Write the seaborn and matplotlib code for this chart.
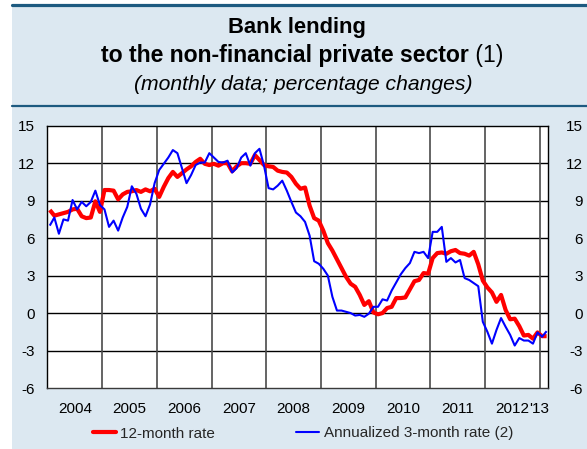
import numpy as np
import pandas as pd
import matplotlib
matplotlib.use("Agg")
import matplotlib.pyplot as plt
from matplotlib.lines import Line2D
from matplotlib.patches import Rectangle
import seaborn as sns

# Monthly observations, January 2004 to February 2013
months = pd.date_range("2004-01-01", periods=110, freq="MS")

rate_12m = [
    8.25, 7.8, 7.9, 8.0, 8.1, 8.3, 8.35, 7.75, 7.6, 7.65, 8.95, 8.1,          # 2004
    9.85, 9.85, 9.8, 9.1, 9.5, 9.7, 9.75, 9.85, 9.7, 9.9, 9.75, 9.95,         # 2005
    9.3, 10.1, 10.8, 11.3, 10.9, 11.2, 11.5, 11.75, 12.1, 12.35, 11.95, 11.85,  # 2006
    11.95, 11.8, 12.0, 12.0, 11.35, 11.75, 12.0, 12.0, 11.95, 12.65, 12.25, 11.85,  # 2007
    11.75, 11.7, 11.4, 11.3, 11.25, 10.9, 10.35, 9.95, 10.05, 8.6, 7.6, 7.4,  # 2008
    6.6, 5.6, 5.0, 4.3, 3.6, 2.9, 2.35, 2.1, 1.45, 0.65, 0.95, 0.05,          # 2009
    -0.1, 0.0, 0.4, 0.5, 1.2, 1.2, 1.25, 1.9, 2.55, 2.65, 3.2, 3.15,          # 2010
    4.4, 4.8, 4.85, 4.75, 4.95, 5.05, 4.8, 4.75, 4.6, 4.9, 3.9, 2.6,          # 2011
    2.05, 1.65, 0.9, 1.45, 0.25, -0.5, -0.45, -1.05, -1.8, -1.75, -2.05, -1.55,  # 2012
    -1.85, -1.85,                                                              # 2013
]

rate_3m_annualized = [
    7.0, 7.65, 6.35, 7.5, 7.4, 9.05, 8.3, 8.9, 8.55, 8.9, 9.8, 8.65,          # 2004
    8.3, 6.9, 7.4, 6.6, 7.65, 8.5, 10.15, 9.55, 8.35, 7.75, 8.7, 10.4,        # 2005
    11.45, 11.95, 12.45, 13.05, 12.8, 11.6, 10.4, 11.05, 11.85, 12.05, 12.05, 12.8,  # 2006
    12.45, 12.1, 12.05, 12.2, 11.25, 11.6, 12.45, 12.8, 11.8, 12.8, 13.15, 11.8,  # 2007
    10.0, 9.9, 10.2, 10.6, 9.8, 8.9, 8.05, 7.75, 7.3, 6.2, 4.15, 3.95,        # 2008
    3.55, 3.0, 1.3, 0.2, 0.2, 0.1, 0.0, -0.2, -0.15, -0.3, -0.05, 0.5,        # 2009
    0.5, 1.1, 1.0, 1.8, 2.45, 3.1, 3.6, 4.0, 4.9, 4.8, 4.9, 4.4,              # 2010
    6.5, 6.5, 6.9, 4.1, 4.4, 4.05, 4.25, 2.8, 2.65, 2.4, 2.15, -0.7,          # 2011
    -1.5, -2.45, -1.35, -0.4, -1.1, -1.75, -2.6, -2.0, -2.2, -2.2, -2.45, -1.55,  # 2012
    -1.9, -1.45,                                                               # 2013
]

series_names = ["12-month rate", "Annualized 3-month rate (2)"]
year_labels = ["2004", "2005", "2006", "2007", "2008", "2009", "2010", "2011", "2012"]
last_year_label = "'13"
y_ticks = [-6, -3, 0, 3, 6, 9, 12, 15]

title_line1 = "Bank lending"
title_line2_bold = "to the non-financial private sector"
title_line2_note = " (1)"
title_line3 = "(monthly data; percentage changes)"

sns.set_style("white")
plt.rcParams["font.family"] = ["Liberation Sans", "DejaVu Sans"]

W, H = 587, 449
fig = plt.figure(figsize=(W / 100, H / 100), dpi=100)
fig.patch.set_facecolor("white")


def fx(px):
    return px / W


def fy(py):
    return 1 - py / H


PANEL = "#dce8f1"
RULE = "#1d5a80"

# light panel with the two dark rules
fig.add_artist(Rectangle((fx(12), 0), 1 - fx(12), fy(5), transform=fig.transFigure,
                         facecolor=PANEL, edgecolor="none", zorder=0))
fig.add_artist(Line2D([fx(12), 1], [fy(4.8)] * 2, color=RULE, lw=2.3, zorder=1))
fig.add_artist(Line2D([fx(12), 1], [fy(106)] * 2, color=RULE, lw=1.6, zorder=1))

# heading
cx = fx(300)
fig.text(fx(297), fy(33), title_line1, ha="center", va="baseline",
         fontsize=15.8, fontweight="bold", color="black")
renderer = fig.canvas.get_renderer()
t_bold = fig.text(0, fy(62), title_line2_bold, ha="left", va="baseline",
                  fontsize=16.6, fontweight="bold", color="black")
t_note = fig.text(0, fy(62), title_line2_note, ha="left", va="baseline",
                  fontsize=16.6, color="black")
wb = t_bold.get_window_extent(renderer).width
wn = t_note.get_window_extent(renderer).width
start = 302 - (wb + wn) / 2
t_bold.set_x(fx(start))
t_note.set_x(fx(start + wb))
fig.text(fx(303), fy(90), title_line3, ha="center", va="baseline",
         fontsize=15.2, style="italic", color="black")

# plotting area
ax = fig.add_axes([fx(47.5), fy(388), fx(548) - fx(47.5), fy(125.7) - fy(388)])
ax.set_facecolor("white")

pos = (months.year - 2004) * 12 + (months.month - 1) + 0.5
df = pd.DataFrame({
    "pos": np.concatenate([pos, pos]),
    "value": rate_12m + rate_3m_annualized,
    "series": [series_names[0]] * len(pos) + [series_names[1]] * len(pos),
})

colors = {series_names[0]: "#ff0000", series_names[1]: "#0000ff"}
widths = {series_names[0]: 3.0, series_names[1]: 1.5}

for name in series_names:
    sns.lineplot(data=df[df["series"] == name], x="pos", y="value", color=colors[name],
                 linewidth=widths[name], estimator=None, sort=False, ax=ax,
                 zorder=5 if name == series_names[0] else 6,
                 solid_joinstyle="round", solid_capstyle="butt")

ax.set_xlim(0, 109.8)
ax.set_ylim(-6, 15)

# grid
for y in y_ticks[1:-1]:
    ax.axhline(y, color="black", lw=1.0, zorder=2)
for k in range(1, 10):
    ax.axvline(12 * k, color="#4a4a4a", lw=1.2, zorder=2)

for side in ["left", "right", "top", "bottom"]:
    ax.spines[side].set_visible(True)
    ax.spines[side].set_color("black")
    ax.spines[side].set_linewidth(1.0)
ax.spines["bottom"].set_color("#3a3a3a")

# x ticks: long ones mid-year carry the year labels, short ones monthly
mid_year = [12 * k + 6 for k in range(len(year_labels))]
ax.set_xticks(mid_year)
ax.set_xticklabels(year_labels)
minor = [m for m in range(1, 110) if m % 6 != 0]
ax.set_xticks(minor, minor=True)
ax.tick_params(axis="x", which="major", direction="in", length=5.5, width=1.0,
               color="#4a4a4a", pad=10.2, labelsize=11, labelcolor="black")
ax.tick_params(axis="x", which="minor", direction="in", length=3.2, width=1.0,
               color="#4a4a4a")
ax.annotate(last_year_label, xy=(105.6, 0), xycoords=("data", "axes fraction"),
            xytext=(0, -10.2), textcoords="offset points", ha="left", va="top",
            fontsize=11, color="black", annotation_clip=False)

# y ticks on both sides
ax.set_yticks(y_ticks)
ax.set_yticklabels([str(v) for v in y_ticks])
ax.tick_params(axis="y", length=0, pad=9.0, labelsize=11, labelcolor="black")
ax.set_xlabel("")
ax.set_ylabel("")

ax2 = ax.twinx()
ax2.set_ylim(-6, 15)
ax2.set_yticks(y_ticks)
ax2.set_yticklabels([str(v) for v in y_ticks])
ax2.tick_params(axis="y", length=0, pad=25.2, labelsize=11, labelcolor="black")
for lab in ax2.get_yticklabels():
    lab.set_ha("right")
for side in ["left", "right", "top", "bottom"]:
    ax2.spines[side].set_visible(False)

# legend
handles = [Line2D([], [], color=colors[n], lw=widths[n]) for n in series_names]
fig.legend(handles, series_names, loc="center", bbox_to_anchor=(fx(303), fy(433.5)),
           ncol=2, frameon=False, fontsize=11, handlelength=1.5, handletextpad=0.3,
           columnspacing=5.3, borderaxespad=0)

fig.savefig("out.png", dpi=100, facecolor=fig.get_facecolor())
